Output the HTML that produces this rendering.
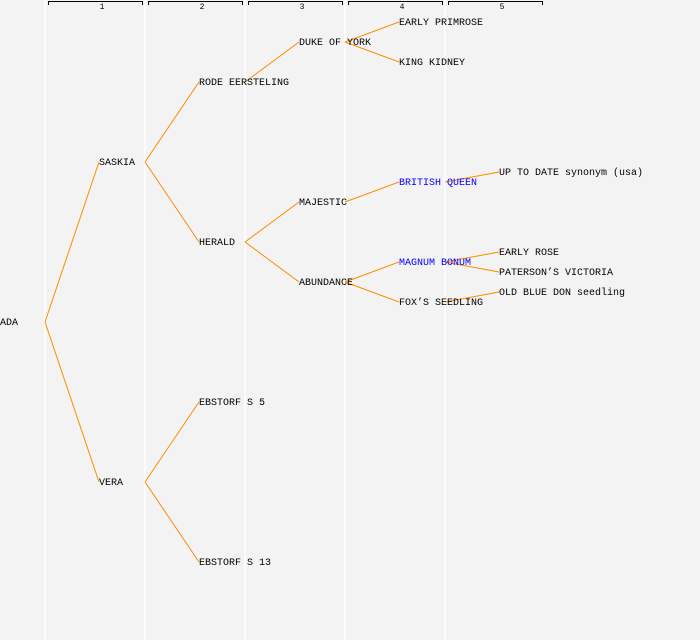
<!DOCTYPE html>
<html><head><style>
body{margin:0;background:#f3f3f3;}
svg{display:block;font-family:"Liberation Mono",monospace;}
</style></head><body>
<svg width="700" height="640" viewBox="0 0 700 640">
<rect width="700" height="640" fill="#f3f3f3"/>
<g stroke="#fff" stroke-width="1.5">
<line x1="45" y1="0" x2="45" y2="640"/><line x1="145" y1="0" x2="145" y2="640"/>
<line x1="245" y1="0" x2="245" y2="640"/><line x1="345" y1="0" x2="345" y2="640"/>
<line x1="445" y1="0" x2="445" y2="640"/>
</g>
<g stroke="#000" fill="none" stroke-width="1">
<path d="M48.5 5V1.5H142.5V5"/><path d="M148.5 5V1.5H242.5V5"/><path d="M248.5 5V1.5H342.5V5"/><path d="M348.5 5V1.5H442.5V5"/><path d="M448.5 5V1.5H542.5V5"/>
</g>
<g font-size="8" text-anchor="middle" fill="#000">
<text x="102" y="9">1</text><text x="202" y="9">2</text><text x="302" y="9">3</text><text x="402" y="9">4</text><text x="502" y="9">5</text>
</g>
<g stroke="#ff8c00" stroke-width="1" fill="none">
<line x1="45" y1="322" x2="99" y2="162"/><line x1="45" y1="322" x2="99" y2="482"/>
<line x1="145" y1="162" x2="199" y2="82"/><line x1="145" y1="162" x2="199" y2="242"/>
<line x1="145" y1="482" x2="199" y2="402"/><line x1="145" y1="482" x2="199" y2="562"/>
<line x1="245" y1="82" x2="299" y2="42"/>
<line x1="245" y1="242" x2="299" y2="202"/><line x1="245" y1="242" x2="299" y2="282"/>
<line x1="345" y1="42" x2="399" y2="22"/><line x1="345" y1="42" x2="399" y2="62"/>
<line x1="345" y1="202" x2="399" y2="182"/>
<line x1="345" y1="282" x2="399" y2="262"/><line x1="345" y1="282" x2="399" y2="302"/>
<line x1="445" y1="182" x2="499" y2="172"/>
<line x1="445" y1="262" x2="499" y2="252"/><line x1="445" y1="262" x2="499" y2="272"/>
<line x1="445" y1="302" x2="499" y2="292"/>
</g>
<g font-size="10" fill="#000">
<text x="0" y="325">ADA</text>
<text x="99" y="165">SASKIA</text><text x="99" y="485">VERA</text>
<text x="199" y="85">RODE EERSTELING</text><text x="199" y="245">HERALD</text>
<text x="199" y="405">EBSTORF S 5</text><text x="199" y="565">EBSTORF S 13</text>
<text x="299" y="45">DUKE OF YORK</text><text x="299" y="205">MAJESTIC</text><text x="299" y="285">ABUNDANCE</text>
<text x="399" y="25">EARLY PRIMROSE</text><text x="399" y="65">KING KIDNEY</text>
<text x="399" y="185" fill="#0000ff">BRITISH QUEEN</text>
<text x="399" y="265" fill="#0000ff">MAGNUM BONUM</text>
<text x="399" y="305">FOX’S SEEDLING</text>
<text x="499" y="175">UP TO DATE synonym (usa)</text>
<text x="499" y="255">EARLY ROSE</text>
<text x="499" y="275">PATERSON’S VICTORIA</text>
<text x="499" y="295">OLD BLUE DON seedling</text>
</g>
</svg>
</body></html>
